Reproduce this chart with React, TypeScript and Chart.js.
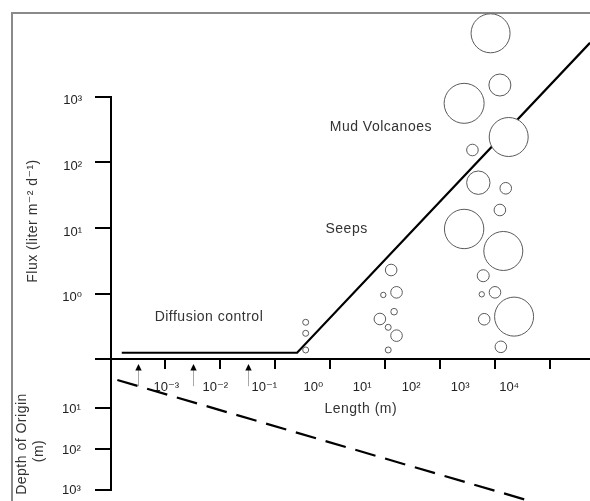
import React, { useEffect, useRef } from 'react';
import { Chart, registerables } from 'chart.js';

Chart.register(...registerables);

// ---- data (log10 units) ----
// Length axis: labelled decades, and the drawn tick marks (own tick scale units)
const lengthLabelDecades = [-3, -2, -1, 0, 1, 2, 3, 4];
const lengthTickMarks = [1, 2, 3, 4, 5, 6, 7, 8];
const arrowMarks = [0.5, 1.5, 2.5];
// Flux axis ticks (log10 liter m-2 d-1); -1 is where the length axis sits
const fluxTicks = [-1, 0, 1, 2, 3];
// Depth of origin ticks (log10 m)
const depthTicks = [1, 2, 3];

// Flux-versus-length envelope (x: log10 length, y: log10 flux)
const fluxEnvelope = [
  { x: -3.91, y: -0.9 },
  { x: -0.33, y: -0.9 },
  { x: 5.65, y: 3.82 },
];
// Depth-of-origin trend (x: log10 length, y: log10 depth)
const depthTrend = [
  { x: -4.0, y: 0.3 },
  { x: 4.8, y: 3.41 },
];

// Bubbles: x log10 length, y log10 flux, r radius
const diffusionBubbles = [
  { x: -0.155, y: -0.436, r: 3 },
  { x: -0.155, y: -0.604, r: 3 },
  { x: -0.155, y: -0.858, r: 3 },
];
const seepBubbles = [
  { x: 1.59, y: 0.36, r: 5.8 },
  { x: 1.43, y: -0.02, r: 2.7 },
  { x: 1.7, y: 0.02, r: 5.8 },
  { x: 1.65, y: -0.275, r: 3.3 },
  { x: 1.36, y: -0.386, r: 5.8 },
  { x: 1.53, y: -0.513, r: 3 },
  { x: 1.7, y: -0.64, r: 5.8 },
  { x: 1.53, y: -0.858, r: 3 },
];
const mudVolcanoBubbles = [
  { x: 3.62, y: 3.966, r: 19.5 },
  { x: 3.81, y: 3.178, r: 11 },
  { x: 3.08, y: 2.899, r: 20 },
  { x: 3.99, y: 2.386, r: 19.5 },
  { x: 3.25, y: 2.188, r: 5.8 },
  { x: 3.37, y: 1.69, r: 11.7 },
  { x: 3.93, y: 1.605, r: 5.8 },
  { x: 3.81, y: 1.274, r: 5.8 },
  { x: 3.08, y: 0.985, r: 19.7 },
  { x: 3.88, y: 0.65, r: 19.5 },
  { x: 3.47, y: 0.273, r: 6 },
  { x: 3.44, y: -0.01, r: 2.7 },
  { x: 3.71, y: 0.02, r: 5.8 },
  { x: 3.49, y: -0.39, r: 5.8 },
  { x: 4.1, y: -0.35, r: 19.5 },
  { x: 3.83, y: -0.81, r: 5.8 },
];

const annotationTexts = ['Mud Volcanoes', 'Seeps', 'Diffusion control', 'Length (m)'];
const annotationX = [1.38, 0.68, -2.13, 0.97];
const annotationY = [2.54, 0.985, -0.356, -1.757];

const FONT = '"Liberation Sans", Arial, "DejaVu Sans", sans-serif';
const SUP: Record<string, string> = { '-': '\u207B', '0': '\u2070', '1': '\u00B9', '2': '\u00B2', '3': '\u00B3', '4': '\u2074', '5': '\u2075' };
const pow10 = (n: number) => '10' + String(n).split('').map((c) => SUP[c] || c).join('');

const noPad = (s: any) => {
  s.paddingTop = 0;
  s.paddingBottom = 0;
  s.paddingLeft = 0;
  s.paddingRight = 0;
};

const decorPlugin = {
  id: 'decor',
  beforeDraw(chart: any) {
    const ctx = chart.ctx;
    ctx.save();
    ctx.strokeStyle = '#8a8a8a';
    ctx.lineWidth = 2;
    ctx.strokeRect(12, 13, 1000, 1000);
    ctx.restore();
  },
  afterDraw(chart: any) {
    const { ctx, chartArea, scales } = chart;
    const x = scales.x, y = scales.y, y2 = scales.y2, xt = scales.xt;
    ctx.save();
    // vertical axis line from top flux tick to deepest depth tick
    ctx.strokeStyle = '#000';
    ctx.lineWidth = 2;
    const ax = chartArea.left + 1;
    ctx.beginPath();
    ctx.moveTo(ax, Math.round(y.getPixelForValue(fluxTicks[fluxTicks.length - 1])) - 1);
    ctx.lineTo(ax, Math.round(y2.getPixelForValue(depthTicks[depthTicks.length - 1])) + 1);
    ctx.stroke();

    // small upward arrows below the length axis
    const tip = y.getPixelForValue(-1.07);
    const tail = y.getPixelForValue(-1.41);
    for (const v of arrowMarks) {
      const px = Math.round(xt.getPixelForValue(v)) + 0.5;
      ctx.strokeStyle = '#a8a8a8';
      ctx.lineWidth = 1;
      ctx.beginPath();
      ctx.moveTo(px, tip + 6);
      ctx.lineTo(px, tail);
      ctx.stroke();
      ctx.fillStyle = '#000';
      ctx.beginPath();
      ctx.moveTo(px, tip);
      ctx.lineTo(px - 3.2, tip + 6.5);
      ctx.lineTo(px + 3.2, tip + 6.5);
      ctx.closePath();
      ctx.fill();
    }

    // annotations
    ctx.fillStyle = '#333';
    ctx.font = '14px ' + FONT;
    try {
      (ctx as any).letterSpacing = '0.5px';
    } catch (e) {}
    ctx.textAlign = 'center';
    ctx.textBaseline = 'middle';
    annotationTexts.forEach((t, i) => {
      ctx.fillText(t, x.getPixelForValue(annotationX[i]), y.getPixelForValue(annotationY[i]));
    });

    // rotated axis titles
    const rot = (text: string, cx: number, cy: number) => {
      ctx.save();
      ctx.translate(cx, cy);
      ctx.rotate(-Math.PI / 2);
      ctx.fillText(text, 0, 0);
      ctx.restore();
    };
    rot('Flux (liter m\u207B\u00B2 d\u207B\u00B9)', 33, 221);
    rot('Depth of Origin', 22, 444);
    rot('(m)', 39, 451);
    ctx.restore();
  },
};

export default function App() {
  const ref = useRef<HTMLCanvasElement | null>(null);

  useEffect(() => {
    if (!ref.current) return;
    const bubbleStyle = {
      type: 'bubble' as const,
      backgroundColor: '#ffffff',
      borderColor: '#5a5a5a',
      borderWidth: 1,
      hoverBorderWidth: 1,
      clip: false as any,
      order: 0,
    };
    const chart = new Chart(ref.current, {
      type: 'bubble',
      data: {
        datasets: [
          { ...bubbleStyle, label: 'Mud volcanoes', data: mudVolcanoBubbles },
          { ...bubbleStyle, label: 'Seeps', data: seepBubbles },
          { ...bubbleStyle, label: 'Diffusion', data: diffusionBubbles },
          {
            type: 'line' as const,
            label: 'Flux',
            data: fluxEnvelope,
            borderColor: '#000',
            borderWidth: 2.2,
            pointRadius: 0,
            fill: false,
            tension: 0,
            clip: false as any,
            order: 1,
            xAxisID: 'x',
            yAxisID: 'y',
          } as any,
          {
            type: 'line' as const,
            label: 'Depth',
            data: depthTrend,
            borderColor: '#000',
            borderWidth: 2.2,
            borderDash: [21, 10],
            pointRadius: 0,
            fill: false,
            tension: 0,
            clip: false as any,
            order: 1,
            xAxisID: 'x',
            yAxisID: 'y2',
          } as any,
        ],
      },
      plugins: [decorPlugin],
      options: {
        responsive: false,
        animation: false,
        events: [],
        layout: { padding: { top: 0, bottom: 11, left: 0, right: 0 }, autoPadding: false },
        plugins: { legend: { display: false }, tooltip: { enabled: false } },
        scales: {
          x: {
            type: 'linear',
            min: -4.15,
            max: 5.65,
            position: { y: -1 } as any,
            afterBuildTicks: (s: any) => {
              s.ticks = lengthLabelDecades.map((v) => ({ value: v }));
            },
            afterFit: noPad,
            grid: { display: false, drawTicks: false },
            border: { display: true, color: '#000', width: 2 },
            ticks: {
              autoSkip: false,
              maxRotation: 0,
              padding: 20,
              color: '#222',
              font: { family: FONT, size: 13 },
              callback: (v: any) => pow10(Number(v)),
            },
          },
          xt: {
            type: 'linear',
            axis: 'x',
            min: 0,
            max: 480 / 55,
            position: { y: -1 } as any,
            afterBuildTicks: (s: any) => {
              s.ticks = lengthTickMarks.map((v) => ({ value: v }));
            },
            afterFit: noPad,
            grid: { display: true, drawOnChartArea: false, drawTicks: true, tickLength: 10, color: '#000', lineWidth: 2 },
            border: { display: false },
            ticks: { display: false },
          },
          y: {
            type: 'linear',
            position: 'left',
            weight: 1,
            min: -2.991,
            max: 4.473,
            afterFit: (s: any) => {
              s.width = 110;
              noPad(s);
            },
            afterBuildTicks: (s: any) => {
              s.ticks = fluxTicks.map((v) => ({ value: v }));
            },
            grid: { display: true, drawOnChartArea: false, drawTicks: true, tickLength: 15, color: '#000', lineWidth: 2 },
            border: { display: false },
            ticks: {
              autoSkip: false,
              padding: 13,
              labelOffset: 4,
              color: '#222',
              font: { family: FONT, size: 13 },
              callback: (v: any) => (Number(v) < 0 ? '' : pow10(Number(v))),
            },
          },
          y2: {
            type: 'linear',
            position: 'left',
            weight: 0,
            reverse: true,
            min: -9.048,
            max: 3.006,
            afterFit: (s: any) => {
              s.width = 0;
              noPad(s);
            },
            afterBuildTicks: (s: any) => {
              s.ticks = depthTicks.map((v) => ({ value: v }));
            },
            grid: { display: true, drawOnChartArea: false, drawTicks: true, tickLength: 15, color: '#000', lineWidth: 2 },
            border: { display: false },
            ticks: {
              autoSkip: false,
              mirror: true,
              padding: -48,
              labelOffset: 1,
              color: '#222',
              font: { family: FONT, size: 13 },
              callback: (v: any) => pow10(Number(v)),
            },
          },
        } as any,
      },
    });
    return () => chart.destroy();
  }, []);

  return (
    <div style={{ position: 'absolute', left: 0, top: 0, width: 590, height: 501 }}>
      <canvas ref={ref} width={590} height={501} style={{ display: 'block' }} />
    </div>
  );
}
